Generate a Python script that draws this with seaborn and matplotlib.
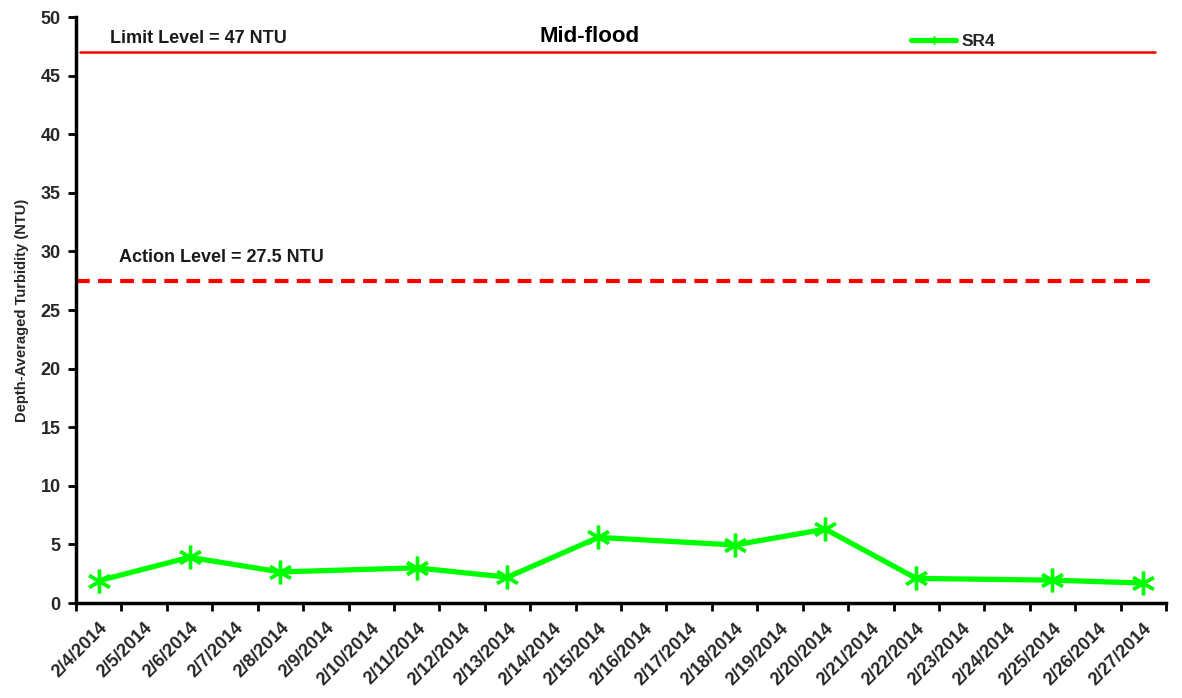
import matplotlib
matplotlib.use("Agg")
import matplotlib.pyplot as plt
import matplotlib.transforms as mtransforms
from matplotlib import font_manager
import seaborn as sns
import pandas as pd

# Daily categories on the x axis
dates = ["2/4/2014", "2/5/2014", "2/6/2014", "2/7/2014", "2/8/2014", "2/9/2014",
         "2/10/2014", "2/11/2014", "2/12/2014", "2/13/2014", "2/14/2014", "2/15/2014",
         "2/16/2014", "2/17/2014", "2/18/2014", "2/19/2014", "2/20/2014", "2/21/2014",
         "2/22/2014", "2/23/2014", "2/24/2014", "2/25/2014", "2/26/2014", "2/27/2014"]

# SR4 sampling days and depth-averaged turbidity (NTU)
sr4_dates = ["2/4/2014", "2/6/2014", "2/8/2014", "2/11/2014", "2/13/2014", "2/15/2014",
             "2/18/2014", "2/20/2014", "2/22/2014", "2/25/2014", "2/27/2014"]
sr4_values = [1.9, 3.9, 2.65, 3.0, 2.2, 5.6, 4.95, 6.3, 2.1, 1.95, 1.7]

limit_level = 47
action_level = 27.5

sns.set_theme(style="white")
plt.rcParams["font.family"] = ["Liberation Sans", "DejaVu Sans"]
plt.rcParams["font.weight"] = "bold"

installed = {f.name for f in font_manager.fontManager.ttflist}
narrow = "Liberation Sans Narrow" if "Liberation Sans Narrow" in installed else "Liberation Sans"

df = pd.DataFrame({"date": sr4_dates, "NTU": sr4_values})
df["pos"] = [dates.index(d) for d in df["date"]]

fig = plt.figure(figsize=(11.82, 6.98), dpi=100)
ax = fig.add_axes([0.0643, 0.1361, 0.9222, 0.8395])

green = "#00FF00"
sns.lineplot(data=df, x="pos", y="NTU", ax=ax, color=green, linewidth=3.8,
             marker=(6, 2, 0), markersize=17, markeredgewidth=2.4,
             markeredgecolor=green, label="SR4", legend=False)

ax.axhline(limit_level, xmin=0.004, xmax=0.99, color="#FF0000", linewidth=1.8)
ax.axhline(action_level, xmin=0.0, xmax=0.99, color="#FF0000", linewidth=3.0,
           dashes=(3.3, 2.0))

ax.text(0.25, 48.15, f"Limit Level = {limit_level} NTU", fontsize=13, fontweight="bold",
        color="#1a1a1a", va="center", ha="left")
ax.text(0.45, 29.45, f"Action Level = {action_level} NTU", fontsize=13, fontweight="bold",
        color="#1a1a1a", va="center", ha="left")
ax.text(10.8, 48.3, "Mid-flood", fontsize=16, fontweight="bold", color="black",
        ha="center", va="center", family=[narrow, "DejaVu Sans"])

ax.set_xlim(-0.5, len(dates) - 0.5)
ax.set_ylim(0, 50)
ax.set_yticks(range(0, 51, 5))
ax.set_yticklabels([str(v) for v in range(0, 51, 5)], fontsize=13, fontweight="bold")
ax.set_xticks(range(len(dates)))
ax.set_xticklabels(dates, rotation=45, ha="right", rotation_mode="anchor",
                   fontsize=13, fontweight="bold")
shift = mtransforms.ScaledTranslation(6 / 100, 0, fig.dpi_scale_trans)
for lbl in ax.get_xticklabels():
    lbl.set_transform(lbl.get_transform() + shift)
ax.set_xticks([i - 0.5 for i in range(len(dates) + 1)], minor=True)
ax.tick_params(axis="x", which="major", length=0, pad=12)
ax.tick_params(axis="x", which="minor", length=6, width=2, direction="out",
               bottom=True, color="black")
ax.tick_params(axis="y", which="major", length=6, width=2, direction="out",
               left=True, color="black", pad=5)

ax.set_xlabel("")
ax.set_ylabel("Depth-Averaged Turbidity (NTU)", fontsize=10.6, fontweight="bold",
              labelpad=8)

for side in ["top", "right"]:
    ax.spines[side].set_visible(False)
for side in ["left", "bottom"]:
    ax.spines[side].set_color("black")
    ax.spines[side].set_linewidth(2.5)

handles, labels = ax.get_legend_handles_labels()
leg = ax.legend(handles, labels, loc="center left", bbox_to_anchor=(0.752, 0.958),
                frameon=False, handlelength=2.6, handletextpad=0.3, markerscale=0.35,
                prop={"weight": "bold", "size": 12.5})
for h in leg.legend_handles:
    h.set_markeredgewidth(1.0)

fig.savefig("out.png", dpi=100, facecolor="white")
